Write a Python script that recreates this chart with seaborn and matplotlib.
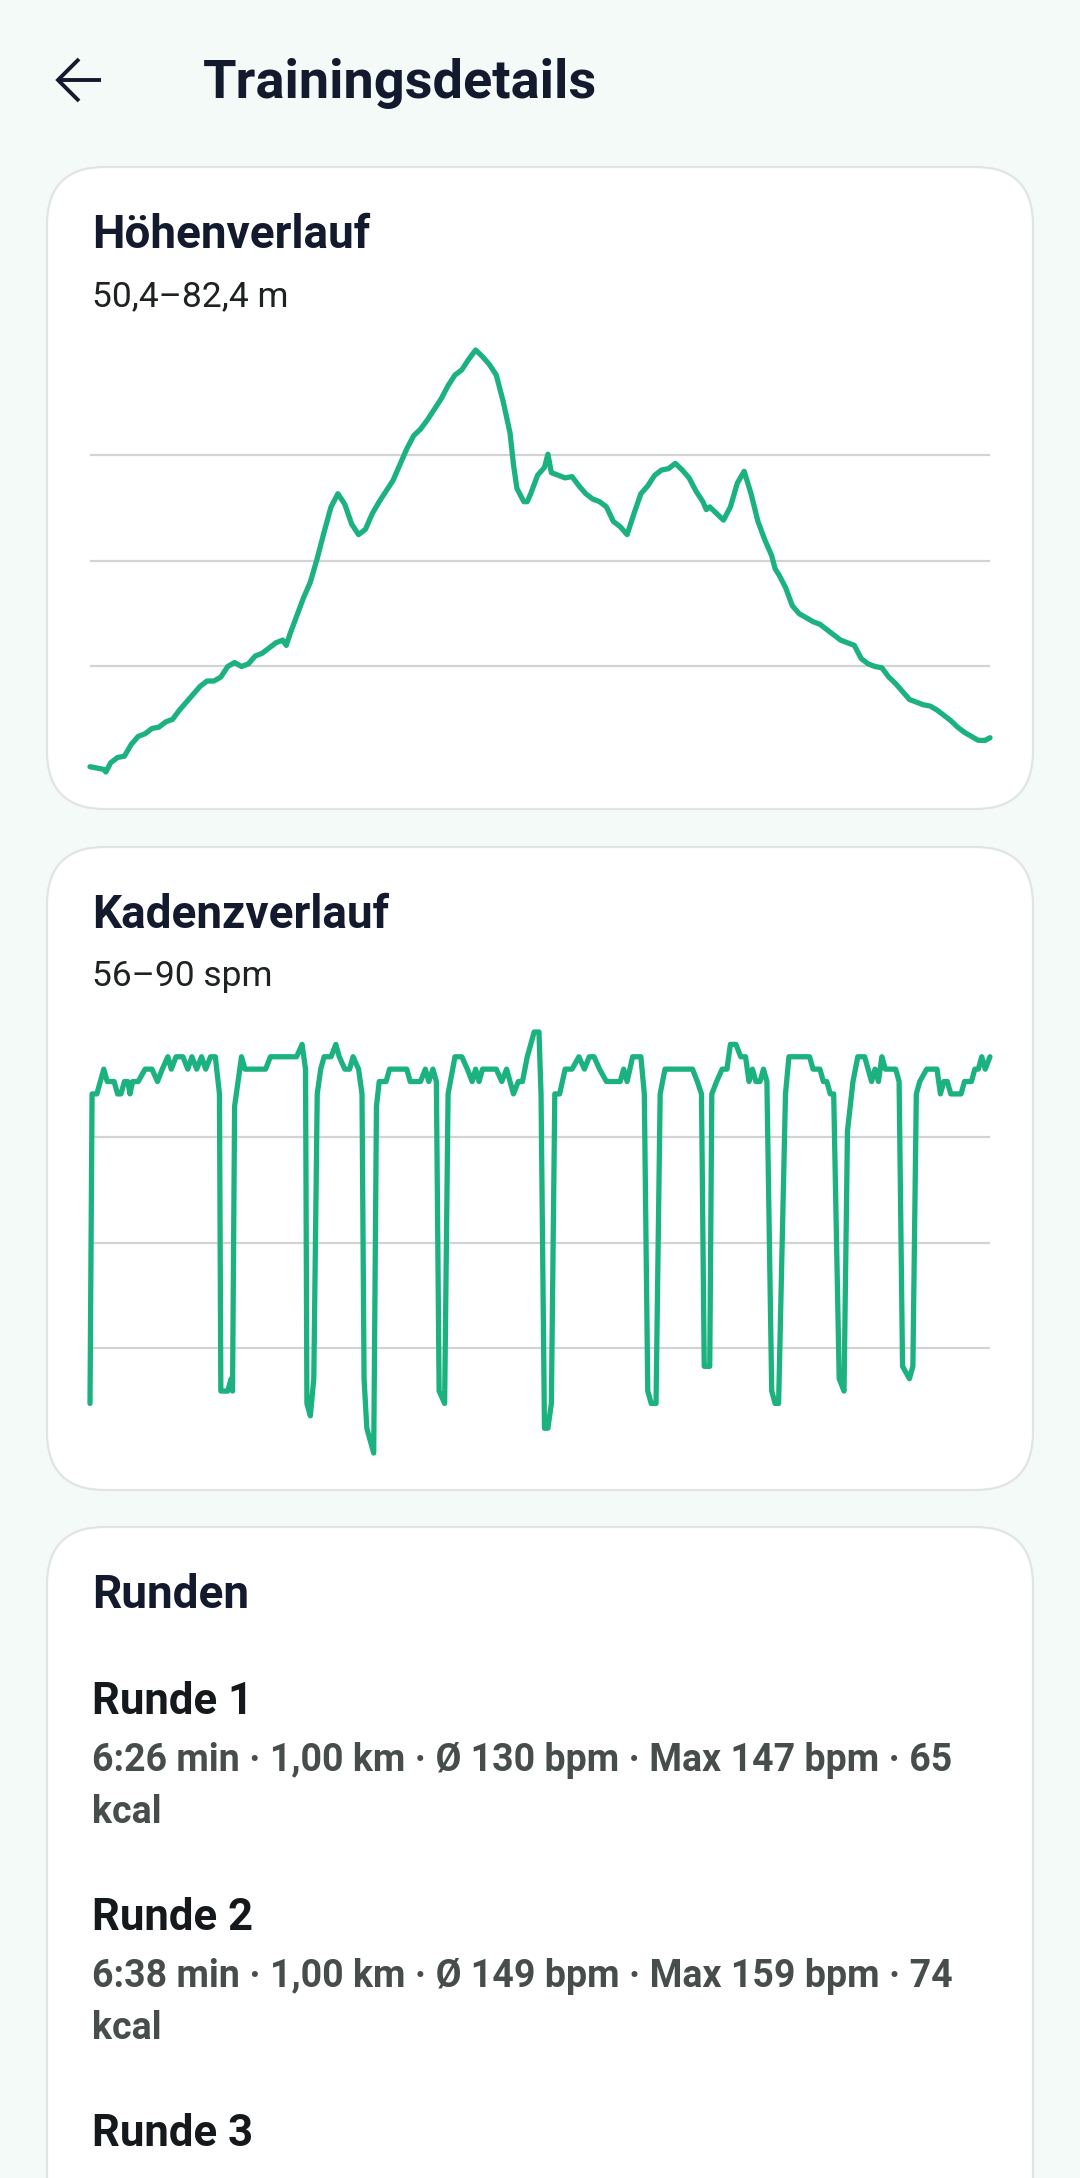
import matplotlib
matplotlib.use("Agg")
import matplotlib.pyplot as plt
from matplotlib.patches import FancyBboxPatch
from matplotlib.lines import Line2D
from matplotlib.transforms import Affine2D
import seaborn as sns

# Canvas
W, H = 1080, 2178
BG = "#F3FAF8"
GREEN = "#1CB280"
INK = "#141A2E"
GREY_TXT = "#474D4A"
GRID = "#D2D4D4"

# Höhenverlauf: distance (km) and elevation (m)
elev_km = [0.00, 0.10, 0.20, 0.23, 0.30, 0.40, 0.50, 0.60, 0.70, 0.80, 0.90, 1.00, 1.10, 1.20,
           1.30, 1.40, 1.50, 1.60, 1.70, 1.80, 1.90, 2.00, 2.10, 2.20, 2.30, 2.40, 2.50, 2.60,
           2.70, 2.80, 2.85, 2.90, 3.00, 3.10, 3.20, 3.30, 3.40, 3.50, 3.60, 3.70, 3.80, 3.90,
           4.00, 4.10, 4.20, 4.30, 4.40, 4.50, 4.60, 4.70, 4.80, 4.90, 5.00, 5.10, 5.20, 5.30,
           5.40, 5.50, 5.60, 5.70, 5.80, 5.90, 6.00, 6.10, 6.15, 6.20, 6.30, 6.35, 6.40, 6.50,
           6.60, 6.65, 6.70, 6.80, 6.90, 7.00, 7.10, 7.20, 7.30, 7.40, 7.50, 7.60, 7.70, 7.80,
           7.90, 8.00, 8.10, 8.20, 8.30, 8.40, 8.50, 8.60, 8.70, 8.80, 8.90, 8.95, 9.00, 9.10,
           9.20, 9.30, 9.40, 9.50, 9.60, 9.70, 9.80, 9.90, 9.95, 10.00, 10.10, 10.20, 10.30,
           10.40, 10.50, 10.60, 10.70, 10.80, 10.90, 11.00, 11.10, 11.20, 11.30, 11.40, 11.50,
           11.60, 11.70, 11.80, 11.90, 12.00, 12.10, 12.20, 12.30, 12.40, 12.50, 12.60, 12.70,
           12.80, 12.90, 13.00, 13.07]
elev_m = [50.8, 50.7, 50.6, 50.4, 51.1, 51.5, 51.6, 52.5, 53.1, 53.3, 53.7, 53.8, 54.2, 54.4,
          55.1, 55.7, 56.3, 56.9, 57.3, 57.3, 57.6, 58.4, 58.7, 58.4, 58.6, 59.2, 59.4, 59.8,
          60.2, 60.4, 60.0, 60.8, 62.2, 63.6, 64.8, 66.6, 68.6, 70.5, 71.5, 70.7, 69.2, 68.4,
          68.8, 70.0, 70.9, 71.7, 72.5, 73.7, 74.9, 75.9, 76.4, 77.1, 77.9, 78.7, 79.7, 80.5,
          80.9, 81.7, 82.4, 81.9, 81.3, 80.5, 78.5, 76.1, 73.7, 71.9, 70.9, 70.9, 71.5, 72.9,
          73.5, 74.5, 73.1, 72.9, 72.7, 72.8, 72.1, 71.5, 71.1, 70.9, 70.5, 69.4, 69.0, 68.4,
          70.0, 71.5, 72.1, 72.9, 73.3, 73.4, 73.8, 73.3, 72.7, 71.7, 70.9, 70.3, 70.5, 70.0,
          69.5, 70.5, 72.3, 73.2, 71.5, 69.4, 68.0, 66.8, 65.8, 65.4, 64.4, 63.0, 62.4,
          62.1, 61.8, 61.6, 61.2, 60.8, 60.4, 60.2, 60.0, 59.0, 58.6, 58.4, 58.3, 57.6,
          57.1, 56.5, 55.9, 55.7, 55.5, 55.4, 55.1, 54.7, 54.3, 53.8, 53.4, 53.1,
          52.8, 52.8, 53.0]
elev_range = (50.4, 82.4)

# Kadenzverlauf: time (min) and cadence (spm)
cad_min = [0.0, 0.15, 0.5, 1.0, 1.25, 1.75, 2.0, 2.25, 2.5, 2.75, 2.9, 3.1, 3.5, 4.0, 4.5, 4.9,
           5.25, 5.65, 5.9, 6.25, 6.75, 7.1, 7.4, 7.75, 8.1, 8.4, 8.75, 9.1, 9.4, 9.5, 10.0,
           10.25, 10.35, 10.5, 11.0, 11.25, 12.75, 13.1, 15.0, 15.4, 15.65, 15.75, 16.0, 16.25,
           16.5, 16.75, 17.0, 17.5, 17.85, 18.1, 18.5, 18.85, 19.1, 19.5, 19.75, 19.9, 20.1,
           20.35, 20.6, 20.8, 21.0, 21.5, 21.75, 23.0, 23.25, 24.0, 24.35, 24.6, 24.9, 25.15,
           25.35, 25.75, 26.0, 26.5, 27.0, 27.4, 27.75, 28.0, 28.25, 28.5, 29.5, 29.9, 30.25,
           30.5, 30.75, 31.1, 31.4, 31.75, 32.0, 32.25, 32.6, 32.75, 33.0, 33.25, 33.5, 33.75,
           34.1, 34.5, 35.0, 35.5, 35.9, 36.25, 36.6, 37.0, 37.5, 38.5, 38.75, 39.0, 39.4,
           40.0, 40.25, 40.5, 40.75, 41.1, 41.4, 41.75, 43.75, 44.1, 44.4, 44.6, 45.0, 45.15,
           45.5, 45.9, 46.25, 46.5, 46.9, 47.25, 47.6, 47.85, 48.1, 48.35, 48.65, 48.9, 49.15,
           49.5, 49.75, 50.0, 50.5, 50.75, 52.25, 52.5, 53.0, 53.25, 53.5, 53.75, 54.0, 54.4,
           54.75, 55.0, 55.4, 55.75, 56.25, 56.5, 56.75, 57.0, 57.25, 57.5, 57.75, 58.5, 58.75,
           59.0, 59.5, 59.75, 60.0, 60.25, 60.75, 61.5, 61.75, 62.0, 62.25, 62.5, 63.25, 63.5,
           64.0, 64.25, 64.5, 64.75, 65.0, 65.35]
cad_spm = [60, 85, 85, 87, 86, 86, 85, 85, 86, 86, 85, 86, 86, 87, 87, 86,
           87, 88, 87, 88, 88, 87, 88, 87, 88, 87, 88, 88, 85, 61, 61,
           62, 61, 84, 88, 87, 87, 88, 88, 89, 87, 60, 59, 62,
           85, 87, 88, 88, 89, 88, 87, 87, 88, 87, 85, 62, 58,
           57, 56, 84, 86, 86, 87, 87, 86, 86, 87, 86, 87, 86,
           61, 60, 85, 88, 88, 87, 86, 87, 86, 87, 87, 86, 87,
           86, 85, 86, 86, 88, 89, 90, 90, 85, 58, 58, 60, 85,
           85, 87, 87, 88, 87, 88, 88, 87, 86, 86, 87, 86, 88,
           88, 85, 61, 60, 60, 85, 87, 87, 86, 85, 63, 63, 85,
           86, 87, 87, 89, 89, 88, 88, 86, 87, 86, 86, 87, 86,
           61, 60, 60, 85, 88, 88, 87, 87, 86, 86, 85, 85, 62,
           61, 82, 86, 88, 88, 87, 86, 87, 86, 88, 87, 87, 86,
           63, 62, 63, 85, 86, 87, 87, 85, 86, 86, 85, 85, 86,
           86, 87, 87, 88, 87, 88]
cad_range = (56, 90)

# Runden
lap_names = ["Runde 1", "Runde 2", "Runde 3"]
lap_stats = [["6:26 min · 1,00 km · Ø 130 bpm · Max 147 bpm · 65", "kcal"],
             ["6:38 min · 1,00 km · Ø 149 bpm · Max 159 bpm · 74", "kcal"],
             []]

sns.set_theme(style="white")
plt.rcParams["font.family"] = ["Roboto", "DejaVu Sans"]

fig = plt.figure(figsize=(W / 100, H / 100), dpi=100)
fig.patch.set_facecolor(BG)

# pixel transform, origin top-left
PX = Affine2D().scale(1 / W, -1 / H).translate(0, 1) + fig.transFigure


def card(y0, y1):
    box = FancyBboxPatch((47, y0), 986, y1 - y0, boxstyle="round,pad=0,rounding_size=58",
                         transform=PX, facecolor="white", edgecolor="#E1E4E3", linewidth=1.6,
                         zorder=0.2)
    fig.add_artist(box)


def text(x, y, s, size, weight="normal", color=INK, **kw):
    fig.text(x, y, s, transform=PX, fontsize=size, fontweight=weight, color=color,
             va="baseline", ha="left", **kw)


def line_panel(top, bottom, xs, ys, yr):
    ax = fig.add_axes([90 / W, 1 - bottom / H, 900 / W, (bottom - top) / H])
    ax.set_zorder(1)
    ax.patch.set_alpha(0)
    lo, hi = yr
    step = (hi - lo) / 4
    for k in (1, 2, 3):
        ax.axhline(lo + k * step, color=GRID, linewidth=1.6, zorder=0)
    sns.lineplot(x=xs, y=ys, ax=ax, color=GREEN, linewidth=3.8, clip_on=False, zorder=2,
                 solid_joinstyle="round", solid_capstyle="round")
    ax.set_xlim(min(xs), max(xs))
    ax.set_ylim(lo, hi)
    ax.set_xticks([])
    ax.set_yticks([])
    ax.set_xlabel("")
    ax.set_ylabel("")
    for sp in ax.spines.values():
        sp.set_visible(False)
    return ax


# header
for seg in ([(58, 80), (101, 80)], [(79, 59), (58, 80), (79, 101)]):
    xs, ys = zip(*seg)
    fig.add_artist(Line2D(xs, ys, transform=PX, color=INK, linewidth=2.8,
                          solid_capstyle="butt", solid_joinstyle="miter"))
text(203, 98, "Trainingsdetails", 39, "bold")

# Höhenverlauf
card(167, 809)
text(92, 248, "Höhenverlauf", 33, "bold")
text(92, 306, f"{elev_range[0]:.1f}–{elev_range[1]:.1f} m".replace(".", ","), 25.5,
     color="#1E2220")
line_panel(350, 772, elev_km, elev_m, elev_range)

# Kadenzverlauf
card(847, 1490)
text(92, 928, "Kadenzverlauf", 33, "bold")
text(92, 986, f"{cad_range[0]}–{cad_range[1]} spm", 25.5, color="#1E2220")
line_panel(1032, 1453, cad_min, cad_spm, cad_range)

# Runden
card(1527, 2300)
text(92, 1608, "Runden", 33, "bold")
lap_y = [1714, 1930, 2146]
for name, stats, y in zip(lap_names, lap_stats, lap_y):
    text(92, y, name, 31.5, "semibold", color="#15191C")
    for i, s in enumerate(stats):
        text(92, y + 57 + i * 52, s, 27, "semibold", color=GREY_TXT)

fig.savefig("out.png", dpi=100, facecolor=BG)
